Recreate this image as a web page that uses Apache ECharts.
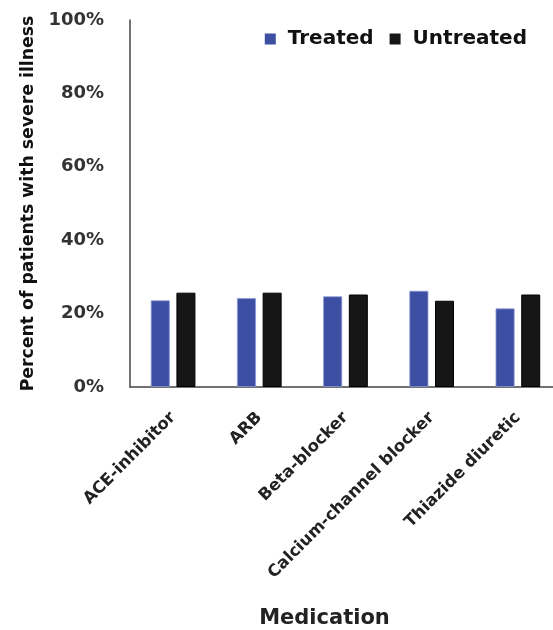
<!DOCTYPE html>
<html><head><meta charset="utf-8">
<script src="https://cdn.jsdelivr.net/npm/echarts@6/dist/echarts.min.js"></script>
<style>html,body{margin:0;padding:0;background:#fff}#c{width:553px;height:630px}</style>
</head><body><div id="c"></div>
<script>
const categories = ["ACE-inhibitor","ARB","Beta-blocker","Calcium-channel blocker","Thiazide diuretic"];
const treated = [0.236, 0.242, 0.247, 0.262, 0.214];
const untreated = [0.257, 0.257, 0.252, 0.235, 0.252];
const FONT = "DejaVu Sans";
const chart = echarts.init(document.getElementById('c'));
chart.setOption({
  backgroundColor: '#fff',
  animation: false,
  textStyle: {fontFamily: FONT},
  legend: {
    right: 21, top: 24, itemWidth: 11, itemHeight: 11, itemGap: 16,
    icon: 'rect',
    itemStyle: {borderWidth: 0},
    textStyle: {fontFamily: FONT, fontSize: 20, fontWeight: 'bold', color: '#111', padding: [0, 0, 0, 7]},
    data: ['Treated','Untreated']
  },
  grid: {left: 130, right: -8, top: 20, bottom: 243, outerBoundsMode: 'none', containLabel: false},
  xAxis: {
    type: 'category', data: categories,
    axisLine: {lineStyle: {color: '#444', width: 1.5}},
    axisTick: {show: false},
    axisLabel: {rotate: 45, interval: 0, margin: 28, fontFamily: FONT, fontSize: 16.5, fontWeight: 'bold', color: '#222'},
    name: 'Medication', nameLocation: 'middle', nameGap: 221,
    nameTextStyle: {fontFamily: FONT, fontSize: 21, fontWeight: 'bold', color: '#222', padding: [0, 42, 0, 0]}
  },
  yAxis: {
    type: 'value', min: 0, max: 1, interval: 0.2,
    axisLine: {show: true, lineStyle: {color: '#444', width: 1.5}},
    axisTick: {show: false},
    splitLine: {show: false},
    axisLabel: {margin: 26, fontFamily: FONT, fontSize: 18, fontWeight: 'bold', color: '#333',
      formatter: v => Math.round(v*100) + '%'},
    name: 'Percent of patients with severe illness', nameLocation: 'middle', nameGap: 93,
    nameTextStyle: {fontFamily: FONT, fontSize: 17.3, fontWeight: 'bold', color: '#111'}
  },
  series: [
    {name: 'Treated', type: 'bar', data: treated, barWidth: 19, barGap: '35%',
     itemStyle: {color: '#3d4fa3', borderColor: '#8b9ad6', borderWidth: 0.8}},
    {name: 'Untreated', type: 'bar', data: untreated, barWidth: 19,
     itemStyle: {color: '#161616', borderColor: '#000', borderWidth: 1}}
  ]
});
</script></body></html>
